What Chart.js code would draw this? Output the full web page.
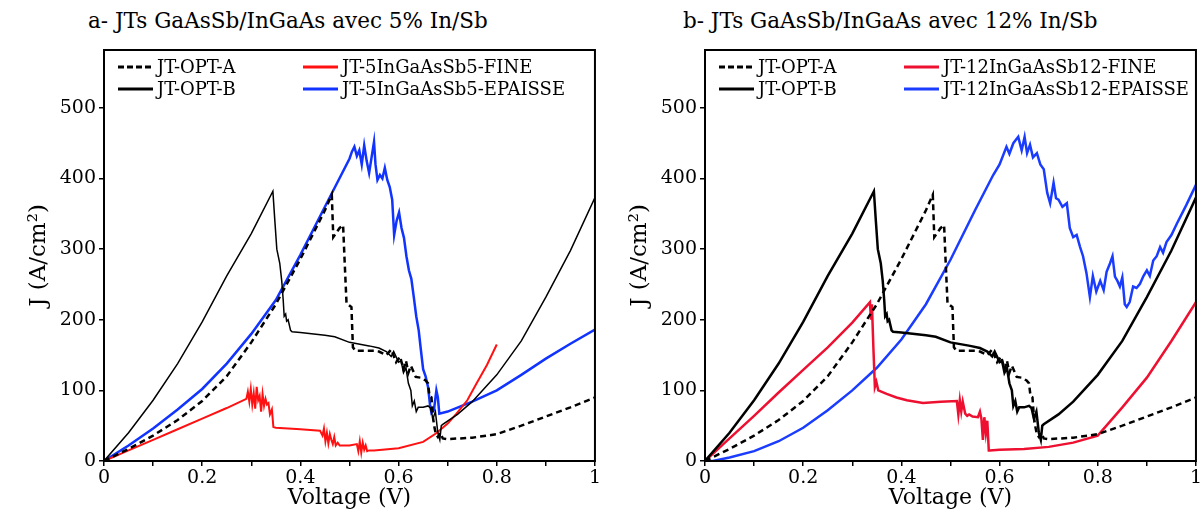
<!DOCTYPE html>
<html>
<head>
<meta charset="utf-8">
<script src="https://cdn.jsdelivr.net/npm/chart.js@4.4.1/dist/chart.umd.min.js"></script>
<style>
  body { margin: 0; background: #fff; }
  #wrap { position: relative; width: 1204px; height: 516px; overflow: hidden; }
  .title { position: absolute; top: 8px; font-family: 'DejaVu Serif', serif; font-size: 21.5px; color: #000; white-space: nowrap; }
  .panel { position: absolute; top: 0; width: 602px; height: 516px; }
</style>
</head>
<body>
<div id="wrap">
  <div class="title" style="left:88px">a- JTs GaAsSb/InGaAs avec 5% In/Sb</div>
  <div class="title" style="left:683px">b- JTs GaAsSb/InGaAs avec 12% In/Sb</div>
  <div class="panel" style="left:0"><canvas id="chartA" width="602" height="516"></canvas></div>
  <div class="panel" style="left:601px"><canvas id="chartB" width="602" height="516"></canvas></div>
</div>
<script>
// axis ticks
const xTickValues = [0, 0.1, 0.2, 0.3, 0.4, 0.5, 0.6, 0.7, 0.8, 0.9, 1];
const xTickLabels = ['0', '', '0.2', '', '0.4', '', '0.6', '', '0.8', '', '1'];
const yTickValues = [0, 100, 200, 300, 400, 500];

// reference tunnel junctions (same in both panels)
const optA_V = [0, 0.05, 0.1, 0.15, 0.2, 0.25, 0.3, 0.35, 0.4, 0.45,
  0.464, 0.467, 0.472, 0.48, 0.487, 0.49, 0.494, 0.5, 0.504, 0.507,
  0.512, 0.55, 0.56, 0.575, 0.585, 0.595, 0.603, 0.61, 0.615, 0.62,
  0.625, 0.635, 0.645, 0.655, 0.66, 0.663, 0.667, 0.67, 0.673, 0.676,
  0.68, 0.685, 0.69, 0.7, 0.75, 0.8, 0.85, 0.9, 0.95, 1];
const optA_J = [0, 17, 36, 58, 85, 120, 168, 222, 286, 355,
  377, 317, 322, 330, 334, 285, 223, 220, 218, 161,
  156, 156, 155, 150, 158, 140, 148, 130, 142, 125,
  135, 119, 118, 114, 110, 92, 90, 62, 48, 38,
  34, 40, 32, 31, 33, 38, 50, 63, 76, 90];

const optB_V = [0, 0.05, 0.1, 0.15, 0.2, 0.25, 0.3, 0.344, 0.348, 0.352,
  0.358, 0.362, 0.365, 0.367, 0.37, 0.372, 0.375, 0.38, 0.383, 0.4,
  0.45, 0.47, 0.5, 0.54, 0.56, 0.575, 0.585, 0.59, 0.6, 0.605,
  0.61, 0.615, 0.62, 0.625, 0.628, 0.632, 0.636, 0.64, 0.65, 0.66,
  0.665, 0.67, 0.675, 0.68, 0.684, 0.687, 0.69, 0.72, 0.75, 0.8,
  0.85, 0.9, 0.95, 1];
const optB_J = [0, 40, 86, 138, 197, 262, 322, 382, 340, 300,
  280, 255, 228, 205, 208, 198, 200, 185, 183, 182,
  178, 176, 168, 163, 160, 155, 148, 155, 140, 142,
  125, 132, 110, 100, 78, 85, 70, 76, 76, 78,
  75, 60, 70, 40, 30, 50, 52, 66, 84, 122,
  170, 232, 298, 373];

// panel a : 5% In/Sb
const fine5_V = [0, 0.05, 0.1, 0.15, 0.2, 0.25,
  0.29, 0.293, 0.296, 0.299, 0.302, 0.305, 0.308, 0.311, 0.314, 0.317,
  0.32, 0.323, 0.326, 0.329, 0.332, 0.335, 0.338, 0.342, 0.345,
  0.35, 0.4, 0.44,
  0.445, 0.448, 0.451, 0.454, 0.457, 0.46, 0.463, 0.466, 0.469, 0.472, 0.476, 0.48, 0.487,
  0.5, 0.515, 0.518, 0.521, 0.524, 0.527, 0.53, 0.533, 0.536, 0.54,
  0.55, 0.6, 0.65, 0.676, 0.7, 0.718, 0.74, 0.759, 0.78, 0.8];
const fine5_J = [0, 15, 30, 45, 60, 75,
  88, 98, 84, 102, 80, 96, 74, 105, 86, 92,
  70, 95, 78, 88, 80, 82, 66, 73, 48,
  47, 45, 43,
  36, 46, 28, 40, 25, 38, 30, 24, 34, 22, 26, 22, 22,
  22, 24, 14, 28, 12, 26, 16, 22, 14, 15,
  15, 18, 27, 39, 53, 67, 86, 110, 136, 165];

const thick5_V = [0, 0.05, 0.1, 0.15, 0.2, 0.25, 0.3, 0.35, 0.4, 0.45, 0.5,
  0.505, 0.51, 0.515, 0.52, 0.525, 0.53, 0.535, 0.54, 0.545, 0.55,
  0.553, 0.557, 0.562, 0.567, 0.572, 0.577, 0.582, 0.587, 0.591, 0.596,
  0.601, 0.606, 0.611, 0.616, 0.621, 0.626, 0.631, 0.636, 0.641, 0.645,
  0.65, 0.655, 0.66, 0.664, 0.667, 0.672, 0.677, 0.68, 0.683,
  0.7, 0.75, 0.8, 0.85, 0.9, 0.95, 1];
const thick5_J = [0, 22, 46, 73, 102, 138, 180, 228, 292, 360, 428,
  438, 445, 432, 440, 420, 447, 425, 408, 430, 452,
  420, 398, 405, 400, 415, 398, 388, 370, 320, 340,
  352, 330, 316, 290, 270, 258, 232, 205, 185, 160,
  130, 120, 105, 80, 68, 72, 100, 90, 67,
  70, 84, 100, 122, 145, 166, 186];

// panel b : 12% In/Sb
const fine12_V = [0, 0.05, 0.1, 0.15, 0.2, 0.25, 0.3, 0.336,
  0.338, 0.34, 0.343, 0.346, 0.349, 0.353, 0.37, 0.39, 0.411, 0.444,
  0.48, 0.513, 0.516, 0.519, 0.522, 0.525, 0.53, 0.534, 0.538, 0.545,
  0.556, 0.56, 0.563, 0.566, 0.569, 0.572, 0.575, 0.578, 0.58, 0.6,
  0.65, 0.7, 0.75, 0.8, 0.85, 0.9, 0.95, 1];
const fine12_J = [0, 32, 64, 97, 129, 161, 196, 225,
  200, 222, 160, 105, 112, 100, 95, 90, 86, 82,
  84, 85, 66, 86, 70, 84, 67, 64, 66, 63,
  62, 70, 60, 30, 62, 40, 57, 15, 15, 16,
  17, 20, 26, 36, 76, 118, 170, 225];

const thick12_V = [0, 0.016, 0.05, 0.1, 0.15, 0.2, 0.25, 0.3, 0.35, 0.4, 0.45, 0.5, 0.55,
  0.587, 0.6, 0.614, 0.62, 0.628, 0.638, 0.645, 0.651, 0.656, 0.662, 0.668, 0.676,
  0.683, 0.69, 0.697, 0.703, 0.71, 0.715, 0.72, 0.728, 0.737, 0.743,
  0.75, 0.757, 0.764, 0.77, 0.777, 0.784, 0.79, 0.797, 0.805, 0.812,
  0.818, 0.825, 0.83, 0.835, 0.84, 0.845, 0.85, 0.855, 0.859, 0.865,
  0.872, 0.879, 0.886, 0.893, 0.9, 0.906, 0.913, 0.92, 0.927, 0.933,
  0.94, 0.95, 0.961, 0.98, 1];
const thick12_J = [0, 0, 5, 14, 28, 47, 72, 100, 132, 172, 222, 285, 355,
  405, 420, 445, 435, 450, 459, 440, 459, 436, 448, 430, 436,
  420, 413, 380, 365, 394, 372, 370, 360, 365, 330,
  317, 320, 303, 290, 266, 232, 262, 240, 255, 242,
  268, 280, 290, 261, 255, 247, 260, 222, 218, 225,
  247, 245, 251, 262, 270, 262, 284, 290, 303, 295,
  310, 320, 336, 362, 391];

const FONT = 'DejaVu Serif';

function toPoints(vs, js) {
  return vs.map((v, i) => ({ x: v, y: js[i] }));
}

// draws the box around the plot area
const framePlugin = {
  id: 'frame',
  afterDraw(chart) {
    const { ctx, chartArea: a } = chart;
    ctx.save();
    ctx.lineWidth = 2;
    ctx.strokeStyle = '#000';
    ctx.strokeRect(a.left, a.top, a.right - a.left, a.bottom - a.top);
    ctx.restore();
  }
};

// legend drawn inside the plot area, 2 columns x 2 rows
const insideLegend = {
  id: 'insideLegend',
  afterDraw(chart, args, opts) {
    const { ctx, chartArea } = chart;
    ctx.save();
    ctx.font = opts.fontSize + 'px "' + FONT + '"';
    ctx.textBaseline = 'middle';
    ctx.fillStyle = '#000';
    chart.data.datasets.forEach((ds, i) => {
      const col = i < 2 ? 0 : 1;
      const row = i % 2;
      const x0 = chartArea.left + opts.colX[col];
      const y = chartArea.top + opts.rowY[row];
      ctx.beginPath();
      ctx.setLineDash(ds.borderDash ? [6, 3] : []);
      ctx.lineWidth = 3;
      ctx.strokeStyle = ds.borderColor;
      ctx.moveTo(x0, y);
      ctx.lineTo(x0 + opts.sample, y);
      ctx.stroke();
      ctx.setLineDash([]);
      ctx.fillText(ds.label, x0 + opts.sample + opts.gap, y + 1);
    });
    ctx.restore();
  }
};

function makeDataset(label, vs, js, color, width, dashed) {
  return {
    label: label,
    data: toPoints(vs, js),
    borderColor: color,
    backgroundColor: color,
    borderWidth: width,
    borderDash: dashed ? [6, 4] : undefined,
    pointRadius: 0,
    tension: 0,
    fill: false
  };
}

function makePanel(canvasId, datasets) {
  const ctx = document.getElementById(canvasId).getContext('2d');
  return new Chart(ctx, {
    type: 'line',
    data: { datasets: datasets },
    plugins: [framePlugin, insideLegend],
    options: {
      responsive: false,
      animation: false,
      devicePixelRatio: 1,
      layout: { padding: { top: 50, right: 7, left: 0, bottom: 0 } },
      plugins: {
        legend: { display: false },
        tooltip: { enabled: false },
        insideLegend: { fontSize: 18, colX: [14, 199], rowY: [17, 39], sample: 35, gap: 4 }
      },
      scales: {
        x: {
          type: 'linear',
          min: 0,
          max: 1,
          afterFit: (s) => { s.height = 55; },
          afterBuildTicks: (s) => { s.ticks = xTickValues.map(v => ({ value: v })); },
          ticks: {
            autoSkip: false,
            maxRotation: 0,
            padding: 1,
            color: '#000',
            font: { family: FONT, size: 19 },
            callback: (v, i) => xTickLabels[i]
          },
          grid: { drawOnChartArea: false, drawTicks: true, tickLength: 5, color: '#000', lineWidth: 1.5 },
          border: { display: true, color: '#000', width: 2 },
          title: {
            display: true,
            text: 'Voltage (V)',
            color: '#000',
            font: { family: FONT, size: 22 },
            padding: { top: 0, bottom: 5 }
          }
        },
        y: {
          type: 'linear',
          min: 0,
          max: 582,
          afterFit: (s) => { s.width = 104; },
          afterBuildTicks: (s) => { s.ticks = yTickValues.map(v => ({ value: v })); },
          ticks: {
            padding: 3,
            color: '#000',
            font: { family: FONT, size: 19 }
          },
          grid: { drawOnChartArea: false, drawTicks: true, tickLength: 5, color: '#000', lineWidth: 1.5 },
          border: { display: true, color: '#000', width: 2 },
          title: {
            display: true,
            text: 'J (A/cm²)',
            color: '#000',
            font: { family: FONT, size: 23 },
            padding: { top: 25, bottom: 0 }
          }
        }
      }
    }
  });
}

makePanel('chartA', [
  makeDataset('JT-OPT-A', optA_V, optA_J, '#000000', 2.5, true),
  makeDataset('JT-OPT-B', optB_V, optB_J, '#000000', 1.5, false),
  makeDataset('JT-5InGaAsSb5-FINE', fine5_V, fine5_J, '#ff1111', 2, false),
  makeDataset('JT-5InGaAsSb5-EPAISSE', thick5_V, thick5_J, '#1033ff', 2.5, false)
]);

makePanel('chartB', [
  makeDataset('JT-OPT-A', optA_V, optA_J, '#000000', 2.5, true),
  makeDataset('JT-OPT-B', optB_V, optB_J, '#000000', 2.5, false),
  makeDataset('JT-12InGaAsSb12-FINE', fine12_V, fine12_J, '#ee1030', 2.5, false),
  makeDataset('JT-12InGaAsSb12-EPAISSE', thick12_V, thick12_J, '#1a3cff', 2.5, false)
]);
</script>
</body>
</html>
